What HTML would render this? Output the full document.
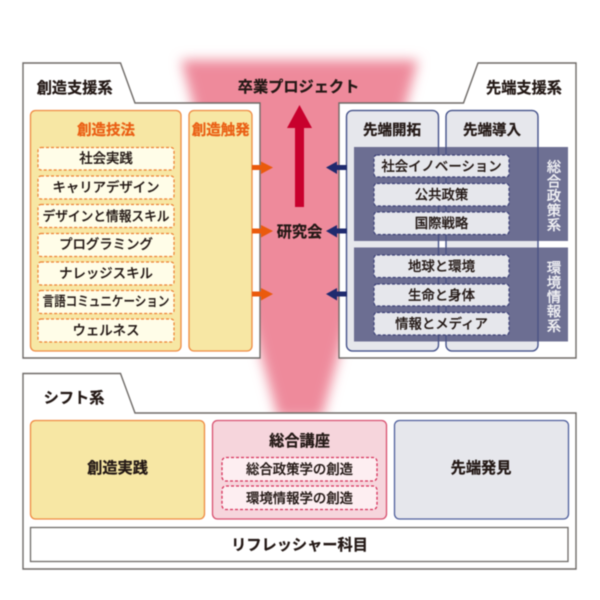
<!DOCTYPE html>
<html><head><meta charset="utf-8"><style>
html,body{margin:0;padding:0;background:#fff}
svg{display:block;filter:blur(.4px)}
text{font-family:"Liberation Sans","Noto Sans CJK JP",sans-serif;text-anchor:middle;fill:#231815}
.t{font-size:15.2px;font-weight:700;stroke:#231815;stroke-width:.25}
.s{font-size:14.5px}
.or{fill:#ea5f14;stroke:#ea5f14}
.i{font-size:13.4px;font-weight:500;stroke:#231815;stroke-width:.22}
.d{fill:#fffde8;stroke:#ee7f30;stroke-width:1.2;stroke-dasharray:3 2}
.n{fill:#e6e7ec;stroke:#3c4178;stroke-width:1.2;stroke-dasharray:3 2}
.p{fill:#fdeef1;stroke:#d6305a;stroke-width:1.3;stroke-dasharray:3 2}
.o{fill:#f7e7a4;stroke:#ef8a42;stroke-width:1.3}
.g{fill:#e6e7ec;stroke:#4f5f9c;stroke-width:1.3}
.l{fill:none;stroke:#3f4a80;stroke-width:1.2;stroke-opacity:.7}
.w{fill:#fff;stroke:#6f6b68;stroke-width:1.4}
.v{font-size:14.4px;fill:#f2f2f5;font-weight:500;stroke:#f2f2f5;stroke-width:.15}
</style></head><body>
<svg xmlns="http://www.w3.org/2000/svg" width="600" height="600" viewBox="0 0 600 600">
<defs><filter id="bl" x="-20%" y="-20%" width="140%" height="140%"><feGaussianBlur stdDeviation="6"/></filter></defs>
<rect width="600" height="600" fill="#fff"/>
<polygon points="181,60 418,60 322,418 278,418" fill="#ee8a9b" filter="url(#bl)"/>

<path class="w" d="M23 63H120.500L135 103H260V358H23Z"/>
<path class="w" d="M339 103H463.500L478 63H576V358H339Z"/>
<path class="w" d="M23 373.500H120.500L135 413H576V569H23Z"/>

<text class="t" x="74.700" y="93">創造支援系</text>
<text class="t" x="524" y="93">先端支援系</text>
<text class="t" x="298.500" y="92">卒業プロジェクト</text>
<text class="t" x="299.500" y="237">研究会</text>
<text class="t" x="74" y="403">シフト系</text>

<rect class="o" x="30.500" y="110.500" width="150.500" height="240.500" rx="5"/>
<rect class="o" x="189" y="110.500" width="63" height="240.500" rx="5"/>
<text class="t s or" x="106" y="135">創造技法</text>
<text class="t s or" x="220.800" y="135">創造触発</text>
<rect class="d" x="38" y="147.500" width="136" height="22.500" rx="3"/>
<rect class="d" x="38" y="176" width="136" height="23" rx="3"/>
<rect class="d" x="38" y="204.500" width="136" height="23" rx="3"/>
<rect class="d" x="38" y="233.500" width="136" height="23" rx="3"/>
<rect class="d" x="38" y="262" width="136" height="23" rx="3"/>
<rect class="d" x="38" y="290.500" width="136" height="23" rx="3"/>
<rect class="d" x="38" y="319" width="136" height="23" rx="3"/>
<text class="i" x="106" y="163">社会実践</text>
<text class="i" x="106" y="192">キャリアデザイン</text>
<text class="i" x="106" y="221" textLength="127" lengthAdjust="spacingAndGlyphs">デザインと情報スキル</text>
<text class="i" x="106" y="249">プログラミング</text>
<text class="i" x="106" y="278">ナレッジスキル</text>
<text class="i" x="106" y="306" textLength="127" lengthAdjust="spacingAndGlyphs">言語コミュニケーション</text>
<text class="i" x="106" y="335">ウェルネス</text>

<rect class="g" x="346.500" y="110.500" width="92" height="240.500" rx="6"/>
<rect class="g" x="446" y="110.500" width="92" height="240.500" rx="6"/>
<text class="t s" x="392" y="135">先端開拓</text>
<text class="t s" x="492" y="135">先端導入</text>
<rect x="354" y="147" width="214" height="94" fill="#62648a" fill-opacity=".92"/>
<rect x="354" y="247.500" width="214" height="94" fill="#62648a" fill-opacity=".92"/>
<rect class="l" x="346.500" y="110.500" width="92" height="240.500" rx="6"/>
<rect class="l" x="446" y="110.500" width="92" height="240.500" rx="6"/>
<rect class="n" x="374" y="155" width="135" height="22" rx="3"/>
<rect class="n" x="374" y="183.500" width="135" height="22.500" rx="3"/>
<rect class="n" x="374" y="212" width="135" height="22.500" rx="3"/>
<rect class="n" x="374" y="255" width="135" height="22.500" rx="3"/>
<rect class="n" x="374" y="284" width="135" height="22" rx="3"/>
<rect class="n" x="374" y="312.500" width="135" height="22.500" rx="3"/>
<text class="i" x="441.500" y="171">社会イノベーション</text>
<text class="i" x="441.500" y="199.500">公共政策</text>
<text class="i" x="441.500" y="228">国際戦略</text>
<text class="i" x="441.500" y="271">地球と環境</text>
<text class="i" x="441.500" y="300">生命と身体</text>
<text class="i" x="441.500" y="328.500">情報とメディア</text>
<text class="v" x="554" y="172">総</text><text class="v" x="554" y="186.500">合</text><text class="v" x="554" y="201">政</text><text class="v" x="554" y="215.500">策</text><text class="v" x="554" y="230">系</text>
<text class="v" x="554" y="273">環</text><text class="v" x="554" y="287.500">境</text><text class="v" x="554" y="302">情</text><text class="v" x="554" y="316.500">報</text><text class="v" x="554" y="331">系</text>

<polygon points="299.500,105 312,128 304,128 304,207 295,207 295,128 287,128" fill="#c8002d"/>

<g fill="#ea5a0c">
<polygon points="252,165 261,165 261,161.500 273,167.500 261,174 261,170 252,170"/>
<polygon points="252,228.500 261,228.500 261,225 273,231 261,237.500 261,233.500 252,233.500"/>
<polygon points="252,291.500 261,291.500 261,288 273,294 261,300.500 261,296.500 252,296.500"/>
</g>
<g fill="#1f2a6e">
<polygon points="347,165 337,165 337,161.500 326,167.500 337,174 337,170 347,170"/>
<polygon points="347,228.500 337,228.500 337,225 326,231 337,237.500 337,233.500 347,233.500"/>
<polygon points="347,291.500 337,291.500 337,288 326,294 337,300.500 337,296.500 347,296.500"/>
</g>

<rect class="o" x="30.500" y="420.500" width="174" height="98.500" rx="5"/>
<rect x="212.500" y="420.500" width="174" height="98.500" rx="5" fill="#f6d5dc" stroke="#d8506f" stroke-width="1.3"/>
<rect class="g" x="394.500" y="420.500" width="174" height="98.500" rx="5"/>
<rect x="30.500" y="527.500" width="537.500" height="34" fill="#fff" stroke="#6f6b68" stroke-width="1.3"/>
<text class="t" x="117.500" y="473">創造実践</text>
<text class="t" x="481" y="473">先端発見</text>
<text class="t" x="299.500" y="446">総合講座</text>
<rect class="p" x="222" y="457.500" width="155" height="23.500" rx="4"/>
<rect class="p" x="222" y="486" width="155" height="23.500" rx="4"/>
<text class="i" x="299.500" y="474">総合政策学の創造</text>
<text class="i" x="299.500" y="503">環境情報学の創造</text>
<text class="t" x="299.500" y="550">リフレッシャー科目</text>
</svg>
</body></html>
